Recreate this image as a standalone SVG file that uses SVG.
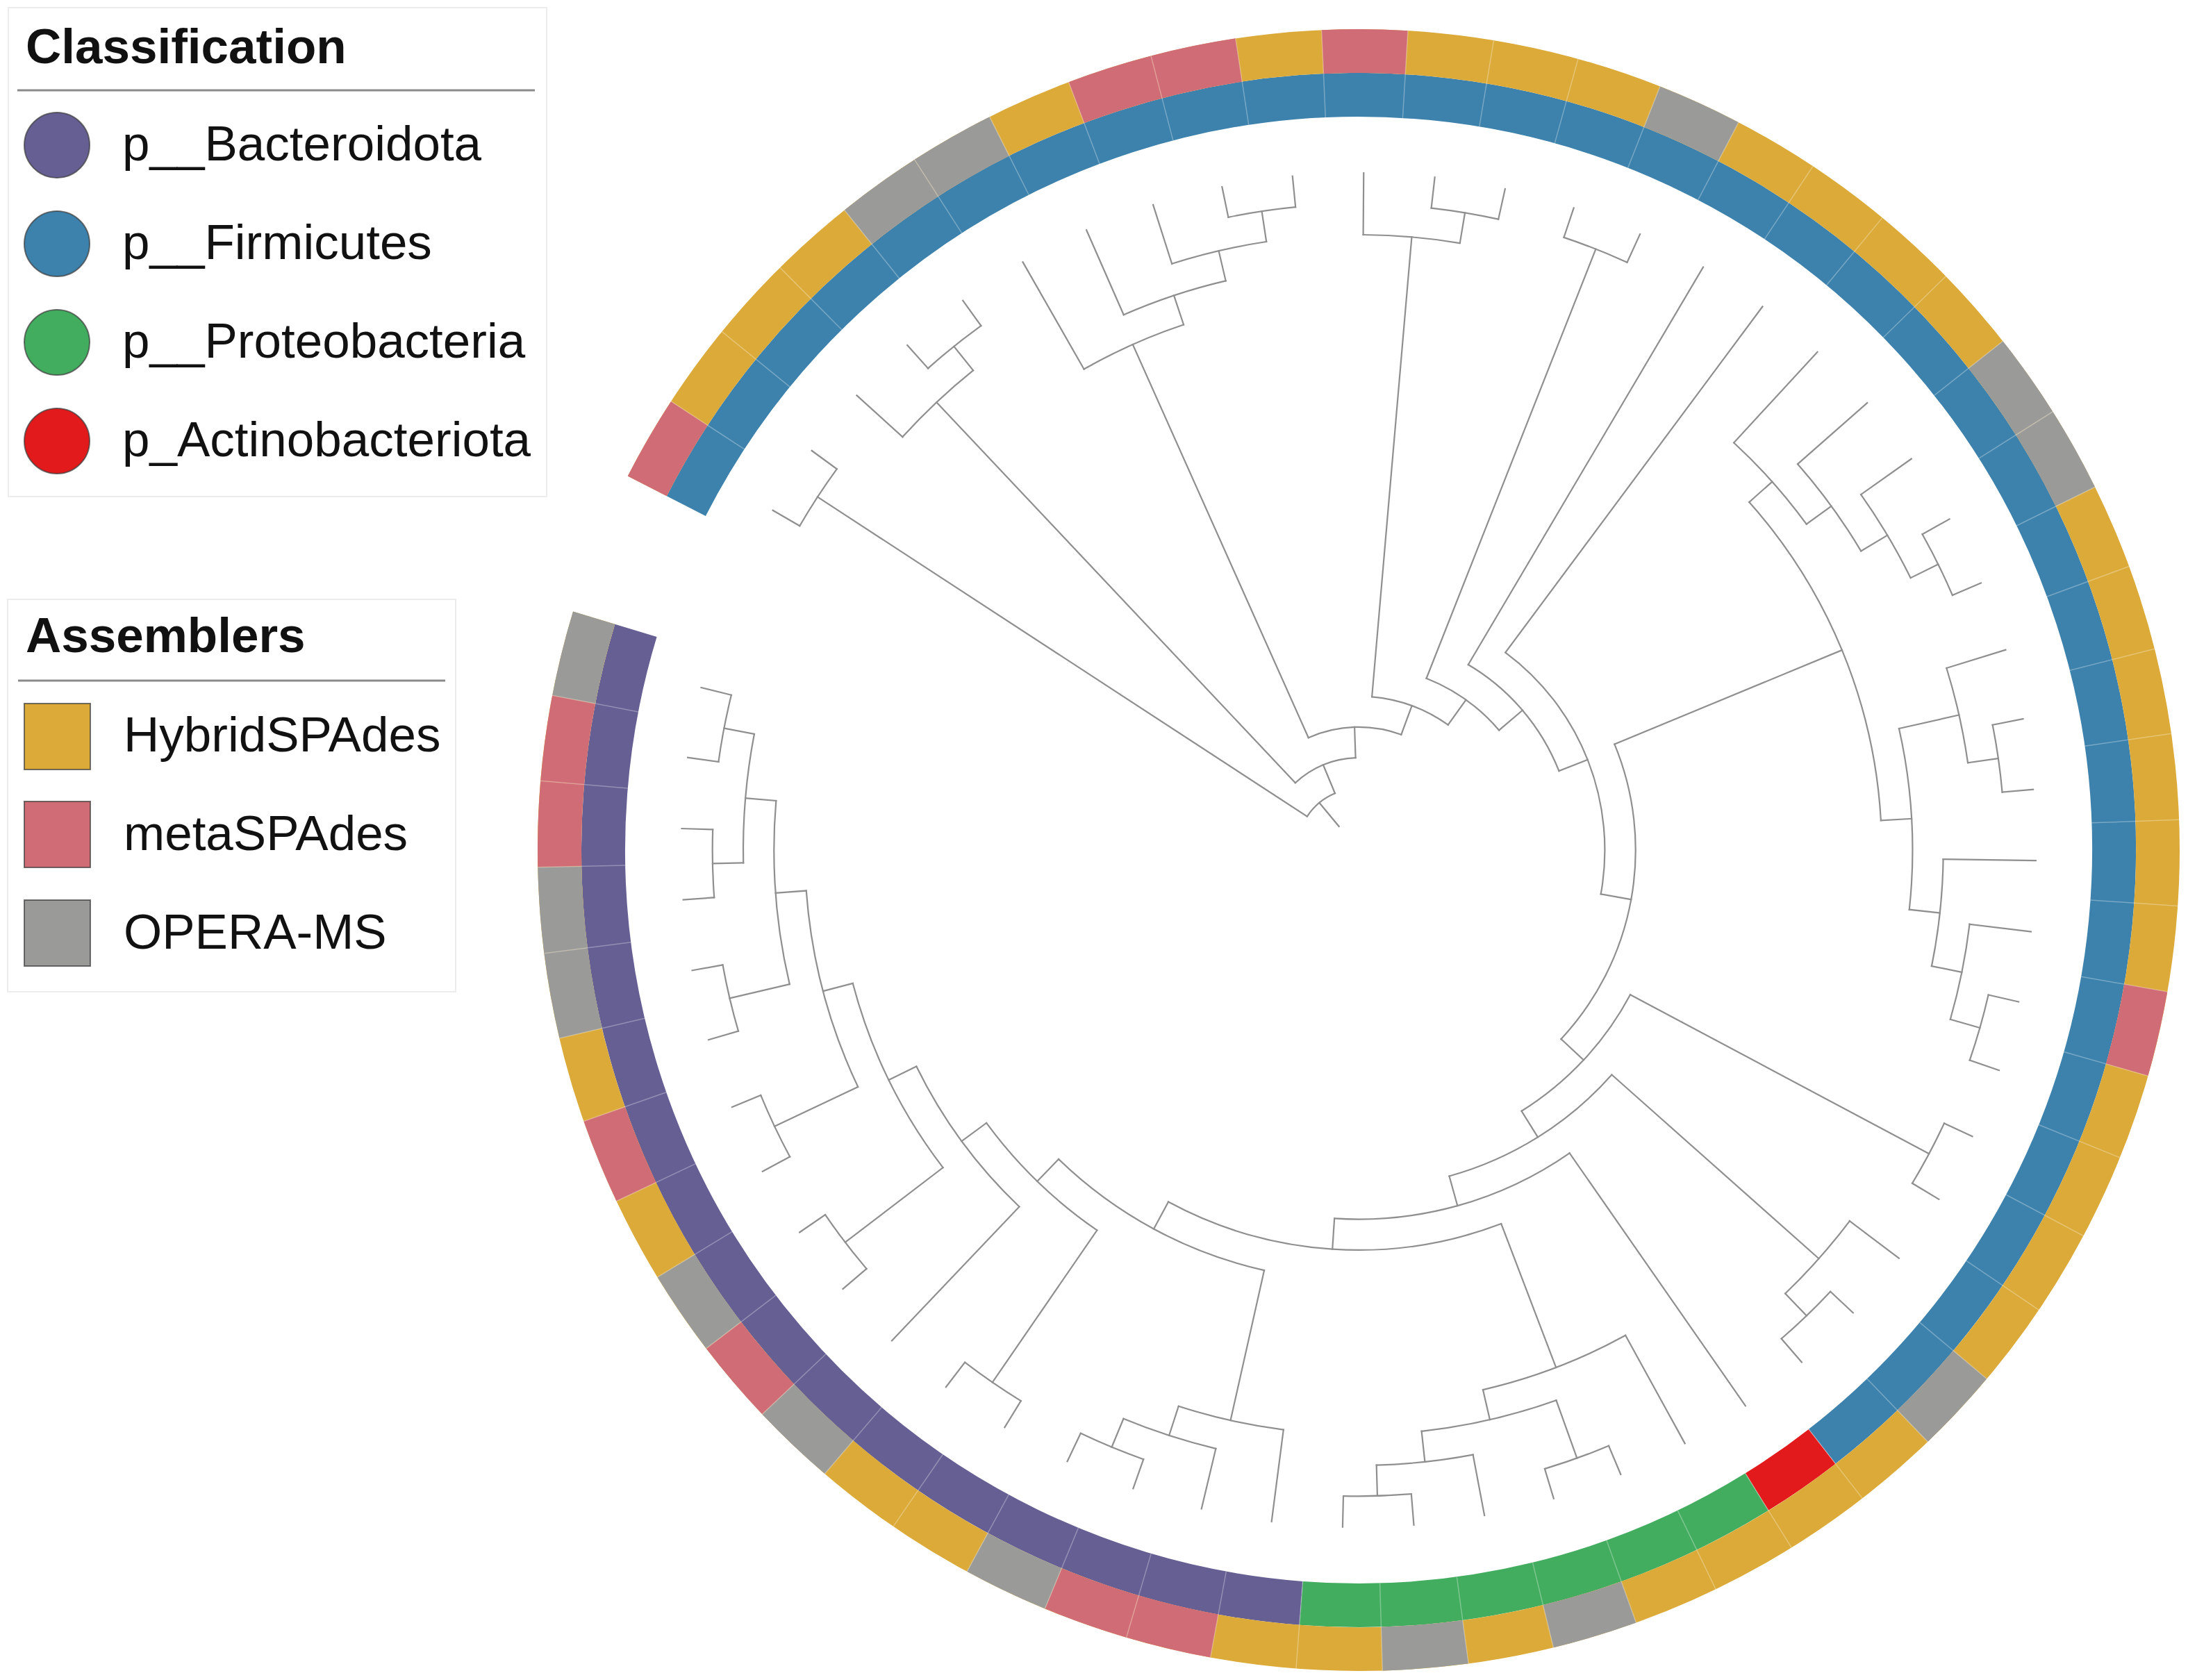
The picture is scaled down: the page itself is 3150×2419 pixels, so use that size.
<svg xmlns="http://www.w3.org/2000/svg" xmlns:xlink="http://www.w3.org/1999/xlink" width="3150" height="2419" viewBox="0 0 3150 2419">
<style>
.lt{font-family:"Liberation Sans",Arial,sans-serif;font-size:71px;fill:#111}
.ttl{font-weight:bold}
.box{fill:#fff;stroke:#ececec;stroke-width:2}
.rule{stroke:#8a8a8a;stroke-width:3}
.sw{stroke:#3a3a3a;stroke-opacity:.7;stroke-width:2}
</style>
<defs>
<line id="lf21" x1="930.3" x2="975"/>
<circle id="ar21" r="930.3" pathLength="360" stroke-dasharray="6.031 400"/>
<line id="sep" x1="1056" x2="1182"/>
<circle id="so" r="1150.5" pathLength="360" stroke-dasharray="6.031 400" stroke-width="63" fill="none"/>
</defs>
<rect width="3150" height="2419" fill="#fff"/>

<g id="legend-classification">
<rect class="box" x="12" y="11" width="775" height="704"/>
<text class="lt ttl" x="37" y="91">Classification</text>
<line class="rule" x1="25" y1="130" x2="770" y2="130"/>
<circle class="sw" cx="82" cy="209" r="47" fill="#655F93"/>
<text class="lt" x="176" y="231">p__Bacteroidota</text>
<circle class="sw" cx="82" cy="351" r="47" fill="#3D82AC"/>
<text class="lt" x="176" y="373">p__Firmicutes</text>
<circle class="sw" cx="82" cy="493" r="47" fill="#43AD5F"/>
<text class="lt" x="176" y="515">p__Proteobacteria</text>
<circle class="sw" cx="82" cy="635" r="47" fill="#E31A1C"/>
<text class="lt" x="176" y="657">p_Actinobacteriota</text>
</g>

<g id="legend-assemblers">
<rect class="box" x="11" y="863" width="645" height="565"/>
<text class="lt ttl" x="37" y="939">Assemblers</text>
<line class="rule" x1="26" y1="980" x2="641" y2="980"/>
<rect class="sw" x="35" y="1013" width="95" height="95" fill="#DCAA38"/>
<text class="lt" x="178" y="1082">HybridSPAdes</text>
<rect class="sw" x="35" y="1154" width="95" height="95" fill="#D06C75"/>
<text class="lt" x="178" y="1224">metaSPAdes</text>
<rect class="sw" x="35" y="1296" width="95" height="95" fill="#9A9B99"/>
<text class="lt" x="178" y="1366">OPERA-MS</text>
</g>

<g id="ring" transform="translate(1956 1224)" fill="none">
<g id="classification-band">
<circle r="1087.5" stroke="#3D82AC" stroke-width="63" pathLength="360" stroke-dasharray="205.054 400" transform="rotate(207.1)"/>
<circle r="1087.5" stroke="#E31A1C" stroke-width="63" pathLength="360" stroke-dasharray="6.031 400" transform="rotate(412.154)"/>
<circle r="1087.5" stroke="#43AD5F" stroke-width="63" pathLength="360" stroke-dasharray="36.186 400" transform="rotate(418.185)"/>
<circle r="1087.5" stroke="#655F93" stroke-width="63" pathLength="360" stroke-dasharray="102.527 400" transform="rotate(454.371)"/>
</g>
<g id="assembler-band">
<circle r="1150.5" stroke="#DCAA38" stroke-width="63" pathLength="360" stroke-dasharray="349.798 400" transform="rotate(207.1)"/>
<g stroke="#D06C75">
<use href="#so" transform="rotate(207.1)"/>
<use href="#so" transform="rotate(249.317)"/>
<use href="#so" transform="rotate(255.348)"/>
<use href="#so" transform="rotate(267.41)"/>
<use href="#so" transform="rotate(369.937)"/>
<use href="#so" transform="rotate(460.402)"/>
<use href="#so" transform="rotate(466.433)"/>
<use href="#so" transform="rotate(496.588)"/>
<use href="#so" transform="rotate(514.681)"/>
<use href="#so" transform="rotate(538.805)"/>
<use href="#so" transform="rotate(544.836)"/>
</g>
<g stroke="#9A9B99">
<use href="#so" transform="rotate(231.224)"/>
<use href="#so" transform="rotate(237.255)"/>
<use href="#so" transform="rotate(291.534)"/>
<use href="#so" transform="rotate(321.689)"/>
<use href="#so" transform="rotate(327.72)"/>
<use href="#so" transform="rotate(400.092)"/>
<use href="#so" transform="rotate(430.247)"/>
<use href="#so" transform="rotate(442.309)"/>
<use href="#so" transform="rotate(472.464)"/>
<use href="#so" transform="rotate(490.557)"/>
<use href="#so" transform="rotate(502.619)"/>
<use href="#so" transform="rotate(526.743)"/>
<use href="#so" transform="rotate(532.774)"/>
<use href="#so" transform="rotate(550.867)"/>
</g>
</g>
<g id="separators" stroke="#ffffff" stroke-opacity="0.3" stroke-width="1.5">
<use href="#sep" transform="rotate(213.131)"/><use href="#sep" transform="rotate(219.162)"/><use href="#sep" transform="rotate(225.193)"/><use href="#sep" transform="rotate(231.224)"/><use href="#sep" transform="rotate(237.255)"/><use href="#sep" transform="rotate(243.286)"/><use href="#sep" transform="rotate(249.317)"/><use href="#sep" transform="rotate(255.348)"/><use href="#sep" transform="rotate(261.379)"/><use href="#sep" transform="rotate(267.41)"/>
<use href="#sep" transform="rotate(273.441)"/><use href="#sep" transform="rotate(279.472)"/><use href="#sep" transform="rotate(285.503)"/><use href="#sep" transform="rotate(291.534)"/><use href="#sep" transform="rotate(297.565)"/><use href="#sep" transform="rotate(303.596)"/><use href="#sep" transform="rotate(309.627)"/><use href="#sep" transform="rotate(315.658)"/><use href="#sep" transform="rotate(321.689)"/><use href="#sep" transform="rotate(327.72)"/>
<use href="#sep" transform="rotate(333.751)"/><use href="#sep" transform="rotate(339.782)"/><use href="#sep" transform="rotate(345.813)"/><use href="#sep" transform="rotate(351.844)"/><use href="#sep" transform="rotate(357.875)"/><use href="#sep" transform="rotate(363.906)"/><use href="#sep" transform="rotate(369.937)"/><use href="#sep" transform="rotate(375.968)"/><use href="#sep" transform="rotate(381.999)"/><use href="#sep" transform="rotate(388.03)"/>
<use href="#sep" transform="rotate(394.061)"/><use href="#sep" transform="rotate(400.092)"/><use href="#sep" transform="rotate(406.123)"/><use href="#sep" transform="rotate(412.154)"/><use href="#sep" transform="rotate(418.185)"/><use href="#sep" transform="rotate(424.216)"/><use href="#sep" transform="rotate(430.247)"/><use href="#sep" transform="rotate(436.278)"/><use href="#sep" transform="rotate(442.309)"/><use href="#sep" transform="rotate(448.34)"/>
<use href="#sep" transform="rotate(454.371)"/><use href="#sep" transform="rotate(460.402)"/><use href="#sep" transform="rotate(466.433)"/><use href="#sep" transform="rotate(472.464)"/><use href="#sep" transform="rotate(478.495)"/><use href="#sep" transform="rotate(484.526)"/><use href="#sep" transform="rotate(490.557)"/><use href="#sep" transform="rotate(496.588)"/><use href="#sep" transform="rotate(502.619)"/><use href="#sep" transform="rotate(508.65)"/>
<use href="#sep" transform="rotate(514.681)"/><use href="#sep" transform="rotate(520.712)"/><use href="#sep" transform="rotate(526.743)"/><use href="#sep" transform="rotate(532.774)"/><use href="#sep" transform="rotate(538.805)"/><use href="#sep" transform="rotate(544.836)"/><use href="#sep" transform="rotate(550.867)"/>
</g>
</g>

<g id="tree" transform="translate(1956 1224)" fill="none" stroke="#8f8f8f" stroke-width="2.2" stroke-linecap="square">
<g id="root">
<line x1="44.3" x2="88.6" transform="rotate(230.27)"/>
<circle r="88.6" pathLength="360" stroke-dasharray="34.27 400" transform="rotate(213.13)"/>
</g>
<g id="clade-A">
<line x1="88.6" x2="930.3" transform="rotate(213.13)"/>
<use href="#ar21" transform="rotate(210.116)"/>
<use href="#lf21" transform="rotate(210.116)"/><use href="#lf21" transform="rotate(216.147)"/>
</g>
<g id="node-N2">
<line x1="88.6" x2="132.9" transform="rotate(247.40)"/>
<circle r="132.9" pathLength="360" stroke-dasharray="41.39 400" transform="rotate(226.70)"/>
</g>
<g id="clade-B">
<line x1="132.9" x2="886" transform="rotate(226.70)"/>
<circle r="886" pathLength="360" stroke-dasharray="9.042 400" transform="rotate(222.178)"/>
<line x1="886" x2="975" transform="rotate(222.178)"/>
<line x1="886" x2="930.3" transform="rotate(231.22)"/>
<use href="#ar21" transform="rotate(228.209)"/>
<use href="#lf21" transform="rotate(228.209)"/><use href="#lf21" transform="rotate(234.24)"/>
</g>
<g id="node-N3">
<line x1="132.9" x2="177.2" transform="rotate(268.09)"/>
<circle r="177.2" pathLength="360" stroke-dasharray="44.31 400" transform="rotate(245.93)"/>
</g>
<g id="clade-C">
<line x1="177.2" x2="797.4" transform="rotate(245.93)"/>
<circle r="797.4" pathLength="360" stroke-dasharray="11.309 400" transform="rotate(240.271)"/>
<line x1="797.4" x2="975" transform="rotate(240.271)"/>
<line x1="797.4" x2="841.7" transform="rotate(251.58)"/>
<circle r="841.7" pathLength="360" stroke-dasharray="10.558 400" transform="rotate(246.302)"/>
<line x1="841.7" x2="975" transform="rotate(246.302)"/>
<line x1="841.7" x2="886" transform="rotate(256.86)"/>
<circle r="886" pathLength="360" stroke-dasharray="9.047 400" transform="rotate(252.333)"/>
<line x1="886" x2="975" transform="rotate(252.333)"/>
<line x1="886" x2="930.3" transform="rotate(261.38)"/>
<use href="#ar21" transform="rotate(258.364)"/>
<use href="#lf21" transform="rotate(258.364)"/><use href="#lf21" transform="rotate(264.395)"/>
</g>
<g id="node-N4">
<line x1="177.2" x2="221.5" transform="rotate(290.24)"/>
<circle r="221.5" pathLength="360" stroke-dasharray="30.58 400" transform="rotate(274.95)"/>
</g>
<g id="clade-D">
<line x1="221.5" x2="886" transform="rotate(274.95)"/>
<circle r="886" pathLength="360" stroke-dasharray="9.044 400" transform="rotate(270.426)"/>
<line x1="886" x2="975" transform="rotate(270.426)"/>
<line x1="886" x2="930.3" transform="rotate(279.47)"/>
<use href="#ar21" transform="rotate(276.457)"/>
<use href="#lf21" transform="rotate(276.457)"/><use href="#lf21" transform="rotate(282.488)"/>
</g>
<g id="node-N5">
<line x1="221.5" x2="265.8" transform="rotate(305.53)"/>
<circle r="265.8" pathLength="360" stroke-dasharray="27.99 400" transform="rotate(291.53)"/>
<line x1="265.8" x2="930.3" transform="rotate(291.53)"/>
<use href="#ar21" transform="rotate(288.519)"/>
<use href="#lf21" transform="rotate(288.519)"/><use href="#lf21" transform="rotate(294.55)"/>
</g>
<g id="node-N6">
<line x1="265.8" x2="310.1" transform="rotate(319.52)"/>
<circle r="310.1" pathLength="360" stroke-dasharray="37.869 400" transform="rotate(300.581)"/>
<line x1="310.1" x2="975" transform="rotate(300.581)"/>
</g>
<g id="node-N7">
<line x1="310.1" x2="354.4" transform="rotate(338.45)"/>
<circle r="354.4" pathLength="360" stroke-dasharray="63.668 400" transform="rotate(306.612)"/>
<line x1="354.4" x2="975" transform="rotate(306.612)"/>
</g>
<g id="node-N8">
<line x1="354.4" x2="398.7" transform="rotate(370.28)"/>
<circle r="398.7" pathLength="360" stroke-dasharray="65.51 400" transform="rotate(337.52)"/>
</g>
<g id="clade-N9">
<line x1="398.7" x2="753.1" transform="rotate(337.52)"/>
<circle r="753.1" pathLength="360" stroke-dasharray="38.45 400" transform="rotate(318.30)"/>
<line x1="753.1" x2="797.4" transform="rotate(318.30)"/>
<circle r="797.4" pathLength="360" stroke-dasharray="11.307 400" transform="rotate(312.643)"/>
<line x1="797.4" x2="975" transform="rotate(312.643)"/>
<line x1="797.4" x2="841.7" transform="rotate(323.95)"/>
<circle r="841.7" pathLength="360" stroke-dasharray="10.556 400" transform="rotate(318.674)"/>
<line x1="841.7" x2="975" transform="rotate(318.674)"/>
<line x1="841.7" x2="886" transform="rotate(329.23)"/>
<circle r="886" pathLength="360" stroke-dasharray="9.045 400" transform="rotate(324.705)"/>
<line x1="886" x2="975" transform="rotate(324.705)"/>
<line x1="886" x2="930.3" transform="rotate(333.75)"/>
<use href="#ar21" transform="rotate(330.736)"/>
<use href="#lf21" transform="rotate(330.736)"/><use href="#lf21" transform="rotate(336.767)"/>
<line x1="753.1" x2="797.4" transform="rotate(356.75)"/>
<circle r="797.4" pathLength="360" stroke-dasharray="18.85 400" transform="rotate(347.32)"/>
<line x1="797.4" x2="886" transform="rotate(347.32)"/>
<circle r="886" pathLength="360" stroke-dasharray="9.047 400" transform="rotate(342.798)"/>
<line x1="886" x2="975" transform="rotate(342.798)"/>
<line x1="886" x2="930.3" transform="rotate(351.845)"/>
<use href="#ar21" transform="rotate(348.829)"/>
<use href="#lf21" transform="rotate(348.829)"/><use href="#lf21" transform="rotate(354.86)"/>
<line x1="797.4" x2="841.7" transform="rotate(366.17)"/>
<circle r="841.7" pathLength="360" stroke-dasharray="10.559 400" transform="rotate(360.891)"/>
<line x1="841.7" x2="975" transform="rotate(360.891)"/>
<line x1="841.7" x2="886" transform="rotate(371.45)"/>
<circle r="886" pathLength="360" stroke-dasharray="9.048 400" transform="rotate(366.922)"/>
<line x1="886" x2="975" transform="rotate(366.922)"/>
<line x1="886" x2="930.3" transform="rotate(375.97)"/>
<use href="#ar21" transform="rotate(372.953)"/>
<use href="#lf21" transform="rotate(372.953)"/><use href="#lf21" transform="rotate(378.984)"/>
</g>
<g id="node-N10">
<line x1="398.7" x2="443" transform="rotate(403.03)"/>
<circle r="443" pathLength="360" stroke-dasharray="30 400" transform="rotate(388.03)"/>
<line x1="443" x2="930.3" transform="rotate(388.03)"/>
<use href="#ar21" transform="rotate(385.015)"/>
<use href="#lf21" transform="rotate(385.015)"/><use href="#lf21" transform="rotate(391.046)"/>
</g>
<g id="node-N11">
<line x1="443" x2="487.3" transform="rotate(418.03)"/>
<circle r="487.3" pathLength="360" stroke-dasharray="32.87 400" transform="rotate(401.60)"/>
<line x1="487.3" x2="886" transform="rotate(401.60)"/>
<circle r="886" pathLength="360" stroke-dasharray="9.043 400" transform="rotate(397.077)"/>
<line x1="886" x2="975" transform="rotate(397.077)"/>
<line x1="886" x2="930.3" transform="rotate(406.12)"/>
<use href="#ar21" transform="rotate(403.108)"/>
<use href="#lf21" transform="rotate(403.108)"/><use href="#lf21" transform="rotate(409.139)"/>
</g>
<g id="node-N12">
<line x1="487.3" x2="531.6" transform="rotate(434.47)"/>
<circle r="531.6" pathLength="360" stroke-dasharray="38.59 400" transform="rotate(415.17)"/>
<line x1="531.6" x2="975" transform="rotate(415.17)"/>
</g>
<g id="node-N13">
<line x1="531.6" x2="575.9" transform="rotate(453.76)"/>
<circle r="575.9" pathLength="360" stroke-dasharray="49.28 400" transform="rotate(429.12)"/>
</g>
<g id="clade-Proteobacteria">
<line x1="575.9" x2="797.4" transform="rotate(429.12)"/>
<circle r="797.4" pathLength="360" stroke-dasharray="15.829 400" transform="rotate(421.201)"/>
<line x1="797.4" x2="975" transform="rotate(421.201)"/>
<line x1="797.4" x2="841.7" transform="rotate(437.03)"/>
<circle r="841.7" pathLength="360" stroke-dasharray="13.57 400" transform="rotate(430.25)"/>
<line x1="841.7" x2="930.3" transform="rotate(430.25)"/>
<use href="#ar21" transform="rotate(427.232)"/>
<use href="#lf21" transform="rotate(427.232)"/><use href="#lf21" transform="rotate(433.263)"/>
<line x1="841.7" x2="886" transform="rotate(443.82)"/>
<circle r="886" pathLength="360" stroke-dasharray="9.046 400" transform="rotate(439.294)"/>
<line x1="886" x2="975" transform="rotate(439.294)"/>
<line x1="886" x2="930.3" transform="rotate(448.34)"/>
<use href="#ar21" transform="rotate(445.325)"/>
<use href="#lf21" transform="rotate(445.325)"/><use href="#lf21" transform="rotate(451.356)"/>
</g>
<g id="clade-Bacteroidota">
<line x1="575.9" x2="620.2" transform="rotate(478.40)"/>
<circle r="620.2" pathLength="360" stroke-dasharray="31.48 400" transform="rotate(462.66)"/>
<line x1="620.2" x2="841.7" transform="rotate(462.66)"/>
<circle r="841.7" pathLength="360" stroke-dasharray="10.553 400" transform="rotate(457.387)"/>
<line x1="841.7" x2="975" transform="rotate(457.387)"/>
<line x1="841.7" x2="886" transform="rotate(467.94)"/>
<circle r="886" pathLength="360" stroke-dasharray="9.047 400" transform="rotate(463.418)"/>
<line x1="886" x2="975" transform="rotate(463.418)"/>
<line x1="886" x2="930.3" transform="rotate(472.465)"/>
<use href="#ar21" transform="rotate(469.449)"/>
<use href="#lf21" transform="rotate(469.449)"/><use href="#lf21" transform="rotate(475.48)"/>
<line x1="620.2" x2="664.5" transform="rotate(494.14)"/>
<circle r="664.5" pathLength="360" stroke-dasharray="19.22 400" transform="rotate(484.53)"/>
<line x1="664.5" x2="930.3" transform="rotate(484.53)"/>
<use href="#ar21" transform="rotate(481.511)"/>
<use href="#lf21" transform="rotate(481.511)"/><use href="#lf21" transform="rotate(487.542)"/>
<line x1="664.5" x2="708.8" transform="rotate(503.75)"/>
<circle r="708.8" pathLength="360" stroke-dasharray="20.357 400" transform="rotate(493.573)"/>
<line x1="708.8" x2="975" transform="rotate(493.573)"/>
<line x1="708.8" x2="753.1" transform="rotate(513.93)"/>
<circle r="753.1" pathLength="360" stroke-dasharray="22.62 400" transform="rotate(502.62)"/>
<line x1="753.1" x2="930.3" transform="rotate(502.62)"/>
<use href="#ar21" transform="rotate(499.604)"/>
<use href="#lf21" transform="rotate(499.604)"/><use href="#lf21" transform="rotate(505.635)"/>
<line x1="753.1" x2="797.4" transform="rotate(525.24)"/>
<circle r="797.4" pathLength="360" stroke-dasharray="21.11 400" transform="rotate(514.68)"/>
<line x1="797.4" x2="930.3" transform="rotate(514.68)"/>
<use href="#ar21" transform="rotate(511.666)"/>
<use href="#lf21" transform="rotate(511.666)"/><use href="#lf21" transform="rotate(517.697)"/>
<line x1="797.4" x2="841.7" transform="rotate(535.79)"/>
<circle r="841.7" pathLength="360" stroke-dasharray="18.10 400" transform="rotate(526.74)"/>
<line x1="841.7" x2="930.3" transform="rotate(526.74)"/>
<use href="#ar21" transform="rotate(523.728)"/>
<use href="#lf21" transform="rotate(523.728)"/><use href="#lf21" transform="rotate(529.759)"/>
<line x1="841.7" x2="886" transform="rotate(544.84)"/>
<circle r="886" pathLength="360" stroke-dasharray="12.06 400" transform="rotate(538.81)"/>
<line x1="886" x2="930.3" transform="rotate(538.81)"/>
<use href="#ar21" transform="rotate(535.79)"/>
<use href="#lf21" transform="rotate(535.79)"/><use href="#lf21" transform="rotate(541.821)"/>
<line x1="886" x2="930.3" transform="rotate(550.87)"/>
<use href="#ar21" transform="rotate(547.852)"/>
<use href="#lf21" transform="rotate(547.852)"/><use href="#lf21" transform="rotate(553.883)"/>
</g>
</g>
</svg>
